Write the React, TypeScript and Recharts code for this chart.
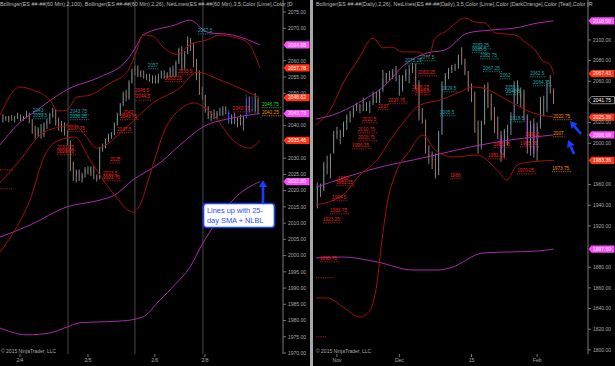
import React from 'react';
import { ComposedChart, Bar, Line, Scatter, XAxis, YAxis, ReferenceLine } from 'recharts';

const FONT = '"Liberation Sans", Arial, sans-serif';
const UP = '#4fd8c4';
const DOWN = '#ff4018';
const BLUE = '#1e8fff';
const MAG = '#a82aa8';
const RED = '#a30f0f';
const TAG_MAG = '#ff4cff';
const TAG_RED = '#ff3414';
const LABEL_COLORS: Record<string, string> = { t: '#1fa7a7', r: '#e8281c', o: '#ff8c00', g: '#3ad23a' };

type Ohlc = [number, number, number, number, string?];
type Pt = [number, number];
type Lbl = [number, number, string, string, number?];

// ---- 60 min panel ----
const hourlyOhlc: Ohlc[] = [
  [2042, 2043.5, 2041, 2042.5], [2042.5, 2043, 2041.5, 2041.75], [2041.75, 2043, 2041, 2042.75],
  [2042.75, 2043.25, 2041.5, 2042], [2042, 2043, 2041, 2042.5], [2042.5, 2044, 2042, 2043.25],
  [2043.25, 2043.5, 2041.5, 2042], [2042, 2043, 2041.5, 2042.75], [2042.75, 2044.5, 2042.25, 2043.5],
  [2043.5, 2044, 2040.75, 2041.25], [2041.25, 2042, 2037.5, 2038.5], [2038.5, 2040, 2036, 2037],
  [2037, 2039.5, 2036.5, 2039], [2039, 2040.5, 2036, 2037.25], [2037.25, 2041, 2036.5, 2040.5],
  [2040.5, 2042, 2039, 2041.5], [2041.5, 2044, 2040.5, 2043.5], [2043.5, 2045.5, 2042.5, 2044.5],
  [2044.5, 2045, 2040, 2041], [2041, 2042.5, 2038.5, 2039.5], [2039.5, 2041.5, 2038, 2040.5],
  [2040.5, 2041, 2037, 2038], [2038, 2038.5, 2034, 2035], [2035, 2035.5, 2026, 2027.5],
  [2027.5, 2029, 2023, 2024.5], [2024.5, 2026.5, 2022.5, 2026], [2026, 2026.5, 2023, 2023.5],
  [2023.5, 2025.5, 2022.5, 2025], [2025, 2027.25, 2024, 2026.75], [2026.75, 2027.5, 2025, 2025.5],
  [2025.5, 2027.5, 2024.5, 2027], [2027, 2027.5, 2023.5, 2024.5], [2024.5, 2025, 2022.75, 2023.75],
  [2023.75, 2033.5, 2023.5, 2033], [2033, 2034.5, 2032, 2033.5], [2033.5, 2036, 2033, 2035.5],
  [2035.5, 2037.5, 2035, 2037], [2037, 2038, 2036, 2037.5], [2037.5, 2041, 2037, 2040.5],
  [2040.5, 2044, 2040, 2043.5], [2043.5, 2047, 2043, 2046.5], [2046.5, 2050.5, 2046, 2050],
  [2050, 2051, 2047.5, 2048.5], [2048.5, 2054, 2048, 2053.5], [2053.5, 2057.5, 2053, 2057],
  [2057, 2058.5, 2055.5, 2058], [2058, 2058.5, 2055, 2055.5], [2055.5, 2057, 2055, 2056.5],
  [2056.5, 2057, 2054.5, 2055], [2055, 2056, 2054, 2055.5], [2055.5, 2056, 2053.5, 2054],
  [2054, 2055.5, 2053, 2055], [2055, 2055.5, 2053, 2053.5], [2053.5, 2056, 2053, 2055.5],
  [2055.5, 2057, 2054.5, 2056.5], [2056.5, 2057, 2054.5, 2055], [2055, 2056.5, 2054.5, 2056],
  [2056, 2058, 2055, 2057.5], [2057.5, 2058.5, 2055, 2055.5], [2055.5, 2060, 2055, 2059.5],
  [2059.5, 2064, 2059, 2063.5], [2063.5, 2064.5, 2057, 2058], [2058, 2063, 2057.5, 2062.5],
  [2062.5, 2067.5, 2062, 2066.5], [2066.5, 2067, 2063, 2063.5], [2063.5, 2065.5, 2058, 2059],
  [2059, 2060.5, 2054, 2055], [2055, 2057, 2049.5, 2050.5], [2050.5, 2052, 2048, 2049],
  [2049, 2049.5, 2044, 2045], [2045, 2046, 2042, 2042.5], [2042.5, 2044.5, 2041.5, 2044],
  [2044, 2045, 2042, 2042.5], [2042.5, 2044.5, 2042, 2044], [2044, 2045.5, 2043, 2043.5],
  [2043.5, 2046, 2043, 2045.5], [2045.5, 2046, 2043.5, 2044], [2044, 2045, 2040.5, 2041, 'o'],
  [2041, 2043.5, 2040.5, 2043], [2043, 2044, 2040.5, 2041.5], [2041.5, 2042.5, 2039.5, 2042],
  [2042, 2043.5, 2040, 2041], [2041, 2043, 2038.5, 2042.5], [2042.5, 2049.5, 2042, 2048.5, 'o'],
  [2048.5, 2049, 2044, 2045], [2045, 2049, 2044.5, 2044.5, 'o'], [2044.5, 2050, 2044, 2048],
  [2048, 2048.5, 2043.5, 2044],
];

const hourlyUpperSlow: Pt[] = [[-1, 2034.1], [6.8, 2041.8], [10.2, 2043.9], [22.2, 2051.3], [33.1, 2055], [42.3, 2060.2], [45.7, 2064.8], [47.7, 2067.9], [58.6, 2071], [63.8, 2072.5], [69.6, 2068.8], [78.4, 2067.9], [87.6, 2064.88]];
const hourlyMidSlow: Pt[] = [[-1, 2005.7], [9.2, 2009.4], [21.8, 2015], [33.1, 2017.1], [38.2, 2018.7], [44.3, 2023.3], [53.5, 2028.5], [60.3, 2034], [68.2, 2039.6], [78.4, 2042.4], [87.6, 2043.73]];
const hourlyLowSlow: Pt[] = [[-1, 1977.7], [8.2, 1975.6], [16, 1976.2], [21.8, 1978], [26.3, 1979.3], [40.9, 1979.9], [47.7, 1981.1], [53.5, 1986.3], [58.6, 1991], [63.8, 1996.5], [68.2, 2003.9], [73.3, 2011], [78.4, 2017.1], [87.6, 2022.8]];
const hourlyUpperFast: Pt[] = [[-1, 2043.3], [5.8, 2051.9], [10.2, 2051], [16, 2047.9], [18.8, 2044.5], [21.8, 2044.8], [25.2, 2048.8], [29.7, 2049.4], [36.5, 2053.1], [42.3, 2056.5], [45.7, 2063.3], [47.7, 2067.9], [51.1, 2067.6], [54.6, 2064.2], [59.3, 2062], [63.8, 2065], [69.6, 2066.4], [74, 2067.9], [78.4, 2067.3], [83.2, 2065.8], [85.9, 2061.8], [87.6, 2057.78]];
const hourlyMidFast: Pt[] = [[-1, 2022.4], [5.8, 2029.4], [12.6, 2037.1], [19.4, 2039.6], [24.5, 2040.2], [28, 2037.1], [32, 2033.1], [42.3, 2039.6], [51.1, 2047], [60.3, 2051.6], [66.1, 2056.5], [74, 2054.1], [87.6, 2048.62]];
const hourlyLowFast: Pt[] = [[-1, 2001.1], [4.1, 2007.9], [9.2, 2017.1], [14.3, 2031], [19.4, 2035.6], [24.5, 2036.5], [29.7, 2029.4], [37.5, 2019.3], [44.3, 2013.4], [46.7, 2015.6], [50.1, 2024.8], [55.2, 2038.7], [60.3, 2045], [65.5, 2047], [68.9, 2045.5], [72.3, 2042.7], [78.4, 2035.6], [84.2, 2033.1], [87.6, 2035.46]];

const hourlyLabels: Lbl[] = [
  [10.2, 2044.2, '2043', 't'], [10.2, 2042.7, '2039.5', 't'], [22.8, 2043.9, '2043.75', 't'], [22.8, 2042.4, '2036.25', 't'],
  [22.2, 2038.7, '2037.75', 'r'], [18.4, 2032.8, '2031.75', 'r'], [18.4, 2031.6, '2029.75', 'r'], [36.5, 2029.1, '2028', 'r'],
  [34.1, 2024.8, '2023.5', 'r'], [34.1, 2023.6, '2022.75', 'r'], [40.9, 2043.6, '2042', 'r'], [39.9, 2042.4, '2041.75', 'r'],
  [38.9, 2038.4, '2037.5', 'r'], [45, 2050.3, '2045.5', 'r'], [45.3, 2048.4, '2044.5', 'r'], [49.4, 2058.1, '2057', 't'],
  [55.2, 2054.1, '2053.25', 'r'], [59.7, 2056.2, '2055.5', 'r'], [66.5, 2068.8, '2067.5', 't'], [78.4, 2044.8, '2042.75', 'r'],
  [88.3, 2046.1, '2046.75', 'g'], [88.3, 2043.6, '2042.25', 'o'], [-1, 2021.1, '', 'r', 12], [-1, 2027, '', 'r', 13],
];
const hourlyTags: [number, string][] = [[2064.88, 'm'], [2057.78, 'r'], [2048.62, 'r'], [2043.73, 'm'], [2035.46, 'r'], [2022.8, 'm']];
// ticks that sit under a tag are not drawn in the original either
const hourlyPriceTicks = [1970, 1975, 1980, 1985, 1990, 1995, 2000, 2005, 2010, 2015, 2020, 2025, 2030, 2040, 2050, 2055, 2060, 2070, 2075];
const hourlyTimeTicks = [5.8, 29, 51.8, 68.9];
const hourlyTimeLabels = ['2/4', '2/5', '2/6', '2/8'];
const hourlySessionBreaks = [22.2, 45, 68.2];

// ---- daily panel ----
const dailyOhlc: Ohlc[] = [
  [1945, 1962, 1937, 1958], [1957, 1961, 1948, 1955], [1955, 1982, 1954, 1980], [1980, 1988, 1970, 1976],
  [1975, 1990, 1966, 1988], [1992, 2012, 1990, 2009], [2009, 2016, 2004, 2012], [2012, 2013, 1999, 2007],
  [2008, 2021, 2006, 2019], [2019, 2028, 2013, 2026], [2026, 2031, 2020, 2029], [2029, 2036, 2025, 2034],
  [2034, 2039, 2031, 2037], [2037, 2038, 2029, 2035], [2035, 2044, 2031, 2036], [2036, 2040, 2031, 2038],
  [2038, 2041, 2029, 2039], [2039, 2050, 2037, 2048], [2048, 2050, 2039, 2045], [2043, 2052, 2039, 2051],
  [2052, 2071, 2050, 2062], [2062, 2068, 2058, 2067], [2067, 2070, 2061, 2064], [2064, 2072, 2062, 2070],
  [2072, 2075, 2060, 2066], [2064, 2066, 2046, 2052, 'b'], [2052, 2066, 2050, 2064], [2064, 2072, 2060, 2070],
  [2068, 2076, 2058, 2072], [2072, 2078, 2068, 2075], [2075, 2077, 2052, 2058], [2058, 2061, 2022, 2026],
  [2026, 2034, 2019, 2021], [2021, 2023, 1990, 1992], [1992, 1998, 1980, 1986], [1986, 1992, 1975, 1979],
  [1979, 1990, 1966, 1972], [1972, 2012, 1969, 2010], [2010, 2060, 2008, 2058, 'b'], [2058, 2068, 2052, 2066],
  [2066, 2073, 2062, 2071], [2071, 2076, 2068, 2074], [2074, 2077, 2070, 2072], [2074, 2086, 2072, 2084],
  [2085, 2093, 2076, 2079], [2079, 2082, 2066, 2068], [2068, 2070, 2050, 2052], [2052, 2058, 2040, 2049],
  [2048, 2050, 2010, 2013], [2014, 2022, 1990, 1996], [1998, 2022, 1994, 2019], [2020, 2057, 2018, 2054],
  [2054, 2059, 2034, 2038], [2038, 2048, 2022, 2026], [2027, 2035, 2010, 2018], [2018, 2026, 2004, 2008],
  [2008, 2012, 1982, 1990, 'p'], [1990, 2014, 1986, 2012], [2011, 2018, 1998, 2015], [2014, 2030, 2008, 2026, 'b'],
  [2026, 2060, 2022, 2057, 'b'], [2056, 2061, 2038, 2044], [2043, 2054, 2035, 2051], [2050, 2052, 2022, 2026],
  [2026, 2028, 1990, 1996, 'p'], [1994, 2022, 1988, 2018], [2018, 2024, 1986, 1990, 'p'], [1992, 2020, 1983, 2016],
  [2018, 2045, 2014, 2042], [2042, 2046, 2026, 2032], [2032, 2060, 2030, 2056, 'b'], [2056, 2066, 2048, 2052],
  [2050, 2053, 2038, 2041.75],
];

const dailyUpperSlow: Pt[] = [[-0.4, 2023.5], [4.8, 2027.4], [13, 2040], [20, 2054.5], [27.3, 2077.7], [33.4, 2087.4], [38.9, 2090.3], [45.9, 2106.8], [53.3, 2109.7], [60.3, 2111.6], [67.3, 2116.5], [72, 2118.5]];
const dailyMidSlow: Pt[] = [[-0.4, 1957.5], [18.2, 1976.1], [33.4, 1986.7], [46.6, 1996.4], [58.7, 2003.2], [72, 2008.08]];
const dailyLowSlow: Pt[] = [[-0.4, 1889], [7.8, 1889.9], [18.2, 1885.1], [29.2, 1877.3], [36.5, 1877.3], [40.5, 1879.3], [50.5, 1893.8], [58.7, 1894.8], [67, 1895.7], [72, 1897.59]];
const dailyUpperFast: Pt[] = [[-0.4, 2017.7], [3.9, 2032.2], [8.4, 2061.3], [12.4, 2080.6], [17, 2101.9], [20, 2092.3], [22.8, 2093.2], [25.8, 2088.4], [30.7, 2088.4], [33.8, 2083.5], [35.9, 2101.9], [38.9, 2107.7], [45, 2121.3], [48.1, 2117.4], [51.1, 2116.5], [54.2, 2106.8], [60.3, 2104.8], [63.3, 2098.1], [66.4, 2090.3], [68.5, 2080.6], [71, 2075.8], [72, 2067.43]];
const dailyMidFast: Pt[] = [[-0.4, 1940.3], [7.8, 1950], [13, 1969.3], [18.2, 1983.8], [22.2, 2003.2], [26.1, 2019.7], [31.3, 2037.1], [37.4, 2041.9], [43.5, 2049.7], [47.5, 2054.5], [50.5, 2053.5], [57.8, 2041.9], [65.8, 2029.3], [72, 2025.39]];
const dailyLowFast: Pt[] = [[-0.4, 1850.2], [3, 1850.2], [7.8, 1841.5], [13, 1831.8], [16.1, 1838.6], [18.2, 1864.8], [19.7, 1906.4], [21.5, 1945.1], [23.7, 1969.3], [28.3, 1993.5], [32.2, 2008], [35.9, 1993.5], [41.4, 1986.7], [48.7, 1988.7], [54.8, 1974.2], [57.8, 1964.5], [60.9, 1979], [64.8, 1981.9], [72, 1983.36]];

const dailyLabels: Lbl[] = [
  [47.2, 2093.2, '2089.25', 't'], [47.2, 2089.4, '2085.5', 't'], [49.6, 2083.5, '2082.75', 't'], [26.7, 2078.7, '2075.25', 't'],
  [31.3, 2081.6, '2077.5', 't'], [30.7, 2067.1, '2063.25', 'r'], [50.5, 2071, '2067.25', 't'], [55.7, 2064.2, '2062', 't'],
  [64.8, 2066.1, '2062.5', 't'], [65.8, 2057.4, '2064.75', 't'], [57.2, 2052.6, '2050.5', 't'], [57.5, 2048.7, '2048.5', 't'],
  [21.6, 2040, '2037.75', 'r'], [18.5, 2034.2, '2037', 'r'], [38, 2051.6, '2029.5', 't'], [28.9, 2052.6, '2036.25', 'r'],
  [29.8, 2048.7, '2033.5', 'r'], [13.6, 2021.6, '2020.5', 'r'], [12.4, 2011.9, '2010.75', 'r'], [12.4, 2004.2, '2003.75', 'r'],
  [10.6, 1996.4, '1996.25', 'r'], [37.4, 2028.4, '2005.5', 't'], [58.7, 2022.6, '2018.5', 't'], [53.6, 1997.4, '1986.75', 'r'],
  [63.3, 2007.1, '1992.5', 'r'], [61.8, 1998.4, '1985.75', 'r'], [52, 1986.7, '1981.25', 'r'], [40.5, 1967.4, '1966', 'r'],
  [60.9, 1972.2, '1970.25', 'r'], [71.6, 1974.2, '1973.75', 'o'], [71.9, 2024.5, '2022.75', 'o'], [71.9, 2008, '2007', 'o'],
  [6.3, 1964.5, '1962', 'r'], [5.7, 1960.6, '1951.25', 'r'], [4.5, 1946.1, '1944.5', 'r'], [3.9, 1933.5, '1931.75', 'r'],
  [1.7, 1924.8, '1923.25', 'r'], [0.8, 1887, '1895.75', 'r'], [-0.4, 1871.5, '', 'r', 17], [-0.4, 1814.4, '', 'r', 10],
];
const dailyTags: [number, string][] = [[2118.5, 'm'], [2067.43, 'r'], [2041.75, 'k'], [2025.39, 'r'], [2008.08, 'm'], [1983.36, 'r'], [1897.59, 'm']];
const dailyPriceTicks = [1800, 1820, 1840, 1860, 1880, 1920, 1940, 1960, 2000, 2020, 2060, 2080, 2100];
const dailyTimeTicks = [6, 25, 47, 67];
const dailyTimeLabels = ['Nov', 'Dec', '15', 'Feb'];

const toBars = (rows: Ohlc[]) => rows.map(([o, h, l, c, f], t) => ({ t, o, h, l, c, f }));
const toLine = (pts: Pt[]) => pts.map(([t, v]) => ({ t, v }));
const toLabels = (rows: Lbl[]) => rows.map(([t, v, text, c, w]) => ({ t, v, text, c, w }));

function Candle(props: any) {
  const { x, y, width, height, payload } = props;
  if (height == null || !payload) return null;
  const { o, h, l, c, f } = payload;
  const k = h === l ? 0 : height / (h - l);
  const yo = y + (h - o) * k;
  const yc = y + (h - c) * k;
  const top = Math.min(yo, yc);
  const bh = Math.max(0.8, Math.abs(yc - yo));
  const cx = x + width / 2;
  const fill = f === 'b' ? BLUE : c >= o ? UP : DOWN;
  const outline = f === 'o' ? '#2f4dff' : f === 'p' ? '#b040ff' : 'none';
  return (
    <g>
      <line x1={cx} x2={cx} y1={y} y2={y + height} stroke={f === 'o' ? '#2f4dff' : '#bdbdbd'} strokeWidth={0.7} />
      <rect x={x} y={top} width={width} height={bh} fill={fill} stroke={outline} strokeWidth={0.6} />
    </g>
  );
}

function NetLabel(props: any) {
  const { cx, cy, payload } = props;
  const col = LABEL_COLORS[payload.c];
  const w = payload.w ?? payload.text.length * 2.55 + 1;
  return (
    <g>
      {payload.text && (
        <text x={cx} y={cy} fontSize={4.7} fill={col} fontFamily={FONT}>{payload.text}</text>
      )}
      <line x1={cx} x2={cx + w} y1={cy + 1.8} y2={cy + 1.8} stroke={col} strokeWidth={0.8} strokeDasharray="0.9 0.9" />
    </g>
  );
}

function Tag(props: any) {
  const { cx, cy, payload } = props;
  const kind = payload.kind;
  const bg = kind === 'm' ? TAG_MAG : kind === 'r' ? TAG_RED : '#000';
  const x0 = cx + 0.5;
  const w = 26;
  const hh = 3.6;
  return (
    <g>
      <polygon
        points={`${x0},${cy} ${x0 + 3},${cy - hh} ${x0 + w},${cy - hh} ${x0 + w},${cy + hh} ${x0 + 3},${cy + hh}`}
        fill={bg}
        stroke={kind === 'k' ? '#e0e0e0' : 'none'}
        strokeWidth={0.6}
      />
      <text x={x0 + 4.5} y={cy + 1.8} fontSize={5} fill="#fff" fontFamily={FONT}>{payload.v.toFixed(2)}</text>
    </g>
  );
}

type PanelProps = {
  width: number;
  left: number;
  barSize: number;
  bars: Ohlc[];
  fast: Pt[][];
  slow: Pt[][];
  labels: Lbl[];
  tags: [number, string][];
  xDomain: [number, number];
  yDomain: [number, number];
  yTicks: number[];
  xTicks: number[];
  xLabels: string[];
  breaks?: number[];
};

function Panel(p: PanelProps) {
  const tagData = p.tags.map(([v, kind]) => ({ t: p.xDomain[1], v, kind }));
  return (
    <ComposedChart width={p.width} height={366} data={toBars(p.bars)} margin={{ top: 0, right: 0, bottom: 0, left: p.left }}>
      <XAxis
        type="number"
        dataKey="t"
        domain={p.xDomain}
        ticks={p.xTicks}
        interval={0}
        tickFormatter={(_v: number, i: number) => p.xLabels[i]}
        height={12}
        axisLine={false}
        tickLine={{ stroke: '#777' }}
        tickSize={3}
        tickMargin={1}
        tick={{ fontSize: 5, fill: '#aaa', fontFamily: FONT }}
      />
      <YAxis
        orientation="right"
        width={27}
        domain={p.yDomain}
        ticks={p.yTicks}
        interval={0}
        tickFormatter={(v: number) => v.toFixed(2)}
        axisLine={{ stroke: '#777' }}
        tickLine={{ stroke: '#777' }}
        tickSize={3}
        tickMargin={2}
        tick={{ fontSize: 5, fill: '#aaa', fontFamily: FONT }}
      />
      {(p.breaks || []).map((b) => (
        <ReferenceLine key={b} x={b} stroke="#4a4a4a" strokeWidth={1} />
      ))}
      {p.slow.map((pts, i) => (
        <Line key={'s' + i} data={toLine(pts)} dataKey="v" type="monotone" stroke={MAG} strokeWidth={1} dot={false} activeDot={false} isAnimationActive={false} />
      ))}
      {p.fast.map((pts, i) => (
        <Line key={'f' + i} data={toLine(pts)} dataKey="v" type="monotone" stroke={RED} strokeWidth={1} dot={false} activeDot={false} isAnimationActive={false} />
      ))}
      <Bar dataKey={(d: any) => [d.l, d.h]} barSize={p.barSize} shape={(props: any) => <Candle {...props} />} activeBar={false} isAnimationActive={false} />
      <Scatter data={toLabels(p.labels)} dataKey="v" shape={(props: any) => <NetLabel {...props} />} isAnimationActive={false} />
      <Scatter data={tagData} dataKey="v" shape={(props: any) => <Tag {...props} />} isAnimationActive={false} />
    </ComposedChart>
  );
}

function Arrow({ x1, y1, x2, y2 }: { x1: number; y1: number; x2: number; y2: number }) {
  const dx = x2 - x1;
  const dy = y2 - y1;
  const len = Math.hypot(dx, dy);
  const ux = dx / len;
  const uy = dy / len;
  const bx = x2 - ux * 7;
  const by = y2 - uy * 7;
  const px = -uy * 4;
  const py = ux * 4;
  return (
    <g>
      <line x1={x1} y1={y1} x2={bx} y2={by} stroke="#1a3cff" strokeWidth={2.6} />
      <polygon points={`${x2},${y2} ${bx + px},${by + py} ${bx - px},${by - py}`} fill="#1a3cff" />
    </g>
  );
}

const titleStyle: React.CSSProperties = {
  position: 'absolute',
  top: 1,
  whiteSpace: 'nowrap',
  fontSize: 5.4,
  lineHeight: '7px',
  color: '#bbb',
  fontFamily: FONT,
};
const copyStyle: React.CSSProperties = { position: 'absolute', top: 348, fontSize: 5, color: '#aaa', fontFamily: FONT, whiteSpace: 'nowrap' };

export default function App() {
  return (
    <div style={{ position: 'fixed', left: 0, top: 0, width: 615, height: 366, background: '#000', overflow: 'hidden' }}>
      <div style={{ position: 'absolute', left: 0, top: 0 }}>
        <Panel
          width={310}
          left={0}
          barSize={2}
          bars={hourlyOhlc}
          fast={[hourlyUpperFast, hourlyMidFast, hourlyLowFast]}
          slow={[hourlyUpperSlow, hourlyMidSlow, hourlyLowSlow]}
          labels={hourlyLabels}
          tags={hourlyTags}
          xDomain={[-1, 95.5]}
          yDomain={[1969.7, 2078.7]}
          yTicks={hourlyPriceTicks}
          xTicks={hourlyTimeTicks}
          xLabels={hourlyTimeLabels}
          breaks={hourlySessionBreaks}
        />
      </div>
      <div style={{ position: 'absolute', left: 310, top: 0 }}>
        <Panel
          width={305}
          left={6}
          barSize={2.5}
          bars={dailyOhlc}
          fast={[dailyUpperFast, dailyMidFast, dailyLowFast]}
          slow={[dailyUpperSlow, dailyMidSlow, dailyLowSlow]}
          labels={dailyLabels}
          tags={dailyTags}
          xDomain={[-0.4, 82.5]}
          yDomain={[1796, 2138.7]}
          yTicks={dailyPriceTicks}
          xTicks={dailyTimeTicks}
          xLabels={dailyTimeLabels}
        />
      </div>
      <div style={{ position: 'absolute', left: 310, top: 0, width: 3, height: 366, background: '#a8a8a8' }} />
      <div style={{ ...titleStyle, left: 0 }}>
        Bollinger(ES ##-##(60 Min),2,100), Bollinger(ES ##-##(60 Min),2,26), NetLines(ES ##-##(60 Min),3,5,Color [Lime],Color [D
      </div>
      <div style={{ ...titleStyle, left: 316 }}>
        Bollinger(ES ##-##(Daily),2,26), NetLines(ES ##-##(Daily),3,5,Color [Lime],Color [DarkOrange],Color [Teal],Color [R
      </div>
      <div style={{ ...copyStyle, left: 1 }}>© 2015 NinjaTrader, LLC</div>
      <div style={{ ...copyStyle, left: 316 }}>© 2015 NinjaTrader, LLC</div>
      <svg width={615} height={366} style={{ position: 'absolute', left: 0, top: 0, pointerEvents: 'none' }}>
        <Arrow x1={263} y1={204} x2={263} y2={180} />
        <rect x={203.5} y={203.5} width={71} height={24} rx={3} fill="#fff" stroke="#1a3cff" strokeWidth={1.6} />
        <text x={207} y={213} fontSize={7.4} fill="#2a4bff" fontFamily={FONT}>Lines up with 25-</text>
        <text x={207} y={222.5} fontSize={7.4} fill="#2a4bff" fontFamily={FONT}>day SMA + NLBL</text>
        <Arrow x1={581} y1={134} x2={570} y2={121} />
        <Arrow x1={574} y1={154} x2={568} y2={140} />
      </svg>
    </div>
  );
}
